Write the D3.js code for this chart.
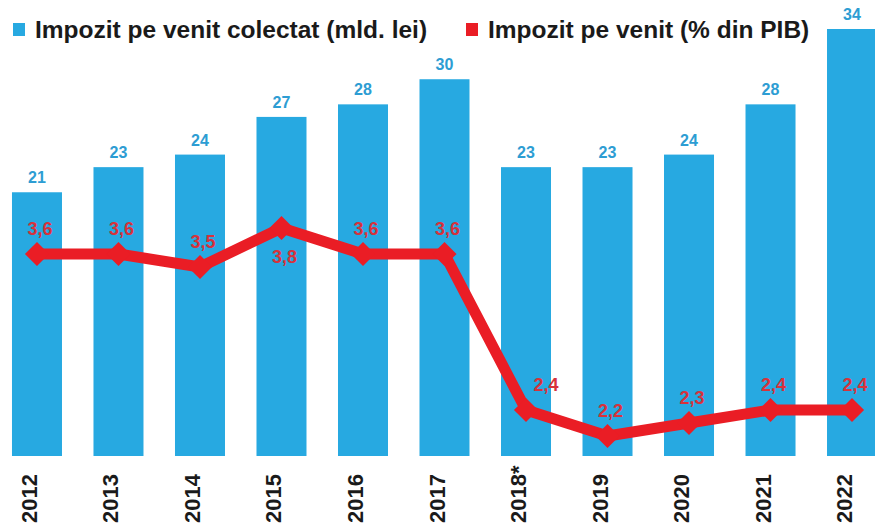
<!DOCTYPE html>
<html>
<head>
<meta charset="utf-8">
<script src="https://cdn.jsdelivr.net/npm/d3@7"></script>
<style>
	body { margin: 0; background: #fff; }
	svg { display: block; font-family: "Liberation Sans", Arial, sans-serif; }
</style>
</head>
<body>
<svg id="chart"></svg>
<script>
// chart data
const years = ["2012", "2013", "2014", "2015", "2016", "2017", "2018*", "2019", "2020", "2021", "2022"];
const collected = [21, 23, 24, 27, 28, 30, 23, 23, 24, 28, 34]; // mld. lei
const pctGdp = [3.6, 3.6, 3.5, 3.8, 3.6, 3.6, 2.4, 2.2, 2.3, 2.4, 2.4]; // % din PIB
const legendLabels = ["Impozit pe venit colectat (mld. lei)", "Impozit pe venit (% din PIB)"];

const width = 875;
const height = 527;
const blue = "#27a9e1";
const blueText = "#2d9dd3";
const red = "#ea1d25";
const redText = "#d7323b";

const svg = d3.select("#chart").attr("width", width).attr("height", height);

// x scale: one band per year, bars 50px wide on a 81.5px step
const x = d3
	.scaleBand()
	.domain(years)
	.range([-3.75, 892.75])
	.paddingInner(0.3865)
	.paddingOuter(0.193);

// left scale for bars, right (hidden) scale for the line
const yBar = d3.scaleLinear().domain([0, 34]).range([456, 29]);
const yLine = d3.scaleLinear().domain([2.2, 3.8]).range([436, 228]);

const center = (d) => x(d) + x.bandwidth() / 2;

// bars
svg
	.append("g")
	.selectAll("rect")
	.data(years)
	.join("rect")
	.attr("x", (d) => x(d))
	.attr("y", (d, i) => yBar(collected[i]))
	.attr("width", x.bandwidth())
	.attr("height", (d, i) => yBar(0) - yBar(collected[i]))
	.attr("fill", blue);

// bar values
svg
	.append("g")
	.selectAll("text")
	.data(years)
	.join("text")
	.attr("x", center)
	.attr("y", (d, i) => yBar(collected[i]) - 9)
	.attr("text-anchor", "middle")
	.style("font-size", "16px")
	.style("font-weight", "bold")
	.style("fill", blueText)
	.text((d, i) => collected[i]);

// year labels, rotated
svg
	.append("g")
	.selectAll("text")
	.data(years)
	.join("text")
	.attr("transform", (d) => `translate(${center(d)}, 523) rotate(-90)`)
	.style("font-size", "22px")
	.style("font-weight", "bold")
	.style("fill", "#1a1a1a")
	.text((d) => d);

// red line
const line = d3
	.line()
	.x((d, i) => center(years[i]))
	.y((d) => yLine(d));

svg
	.append("path")
	.datum(pctGdp)
	.attr("d", line)
	.attr("fill", "none")
	.attr("stroke", red)
	.attr("stroke-width", 11)
	.attr("stroke-linejoin", "round");

// diamond markers
svg
	.append("g")
	.selectAll("path")
	.data(pctGdp)
	.join("path")
	.attr("d", d3.symbol(d3.symbolSquare, 290))
	.attr("transform", (d, i) => `translate(${center(years[i])}, ${yLine(d)}) rotate(45)`)
	.attr("fill", red);

// line values: below the point for a local peak, shifted right after a steep drop
const fmt = (v) => d3.format(".1f")(v).replace(".", ",");
svg
	.append("g")
	.selectAll("text")
	.data(pctGdp)
	.join("text")
	.attr("x", (d, i) => {
		const steepDrop = i > 0 && pctGdp[i - 1] - d > 0.5;
		return center(years[i]) + (steepDrop ? 20 : 3);
	})
	.attr("y", (d, i) => {
		const peak = i > 0 && i < pctGdp.length - 1 && d > pctGdp[i - 1] && d > pctGdp[i + 1];
		return peak ? yLine(d) + 35 : yLine(d) - 19;
	})
	.attr("text-anchor", "middle")
	.style("font-size", "18px")
	.style("font-weight", "bold")
	.style("fill", redText)
	.text(fmt);

// legend
const legend = svg.append("g");
const legendX = [13, 466];
const legendColors = [blue, red];
legendLabels.forEach((label, i) => {
	legend
		.append("rect")
		.attr("x", legendX[i])
		.attr("y", 23)
		.attr("width", 12)
		.attr("height", 13)
		.attr("fill", legendColors[i]);
	legend
		.append("text")
		.attr("x", legendX[i] + 22)
		.attr("y", 38)
		.style("font-size", "24.5px")
		.style("font-weight", "bold")
		.style("fill", "#1a1a1a")
		.text(label);
});
</script>
</body>
</html>
